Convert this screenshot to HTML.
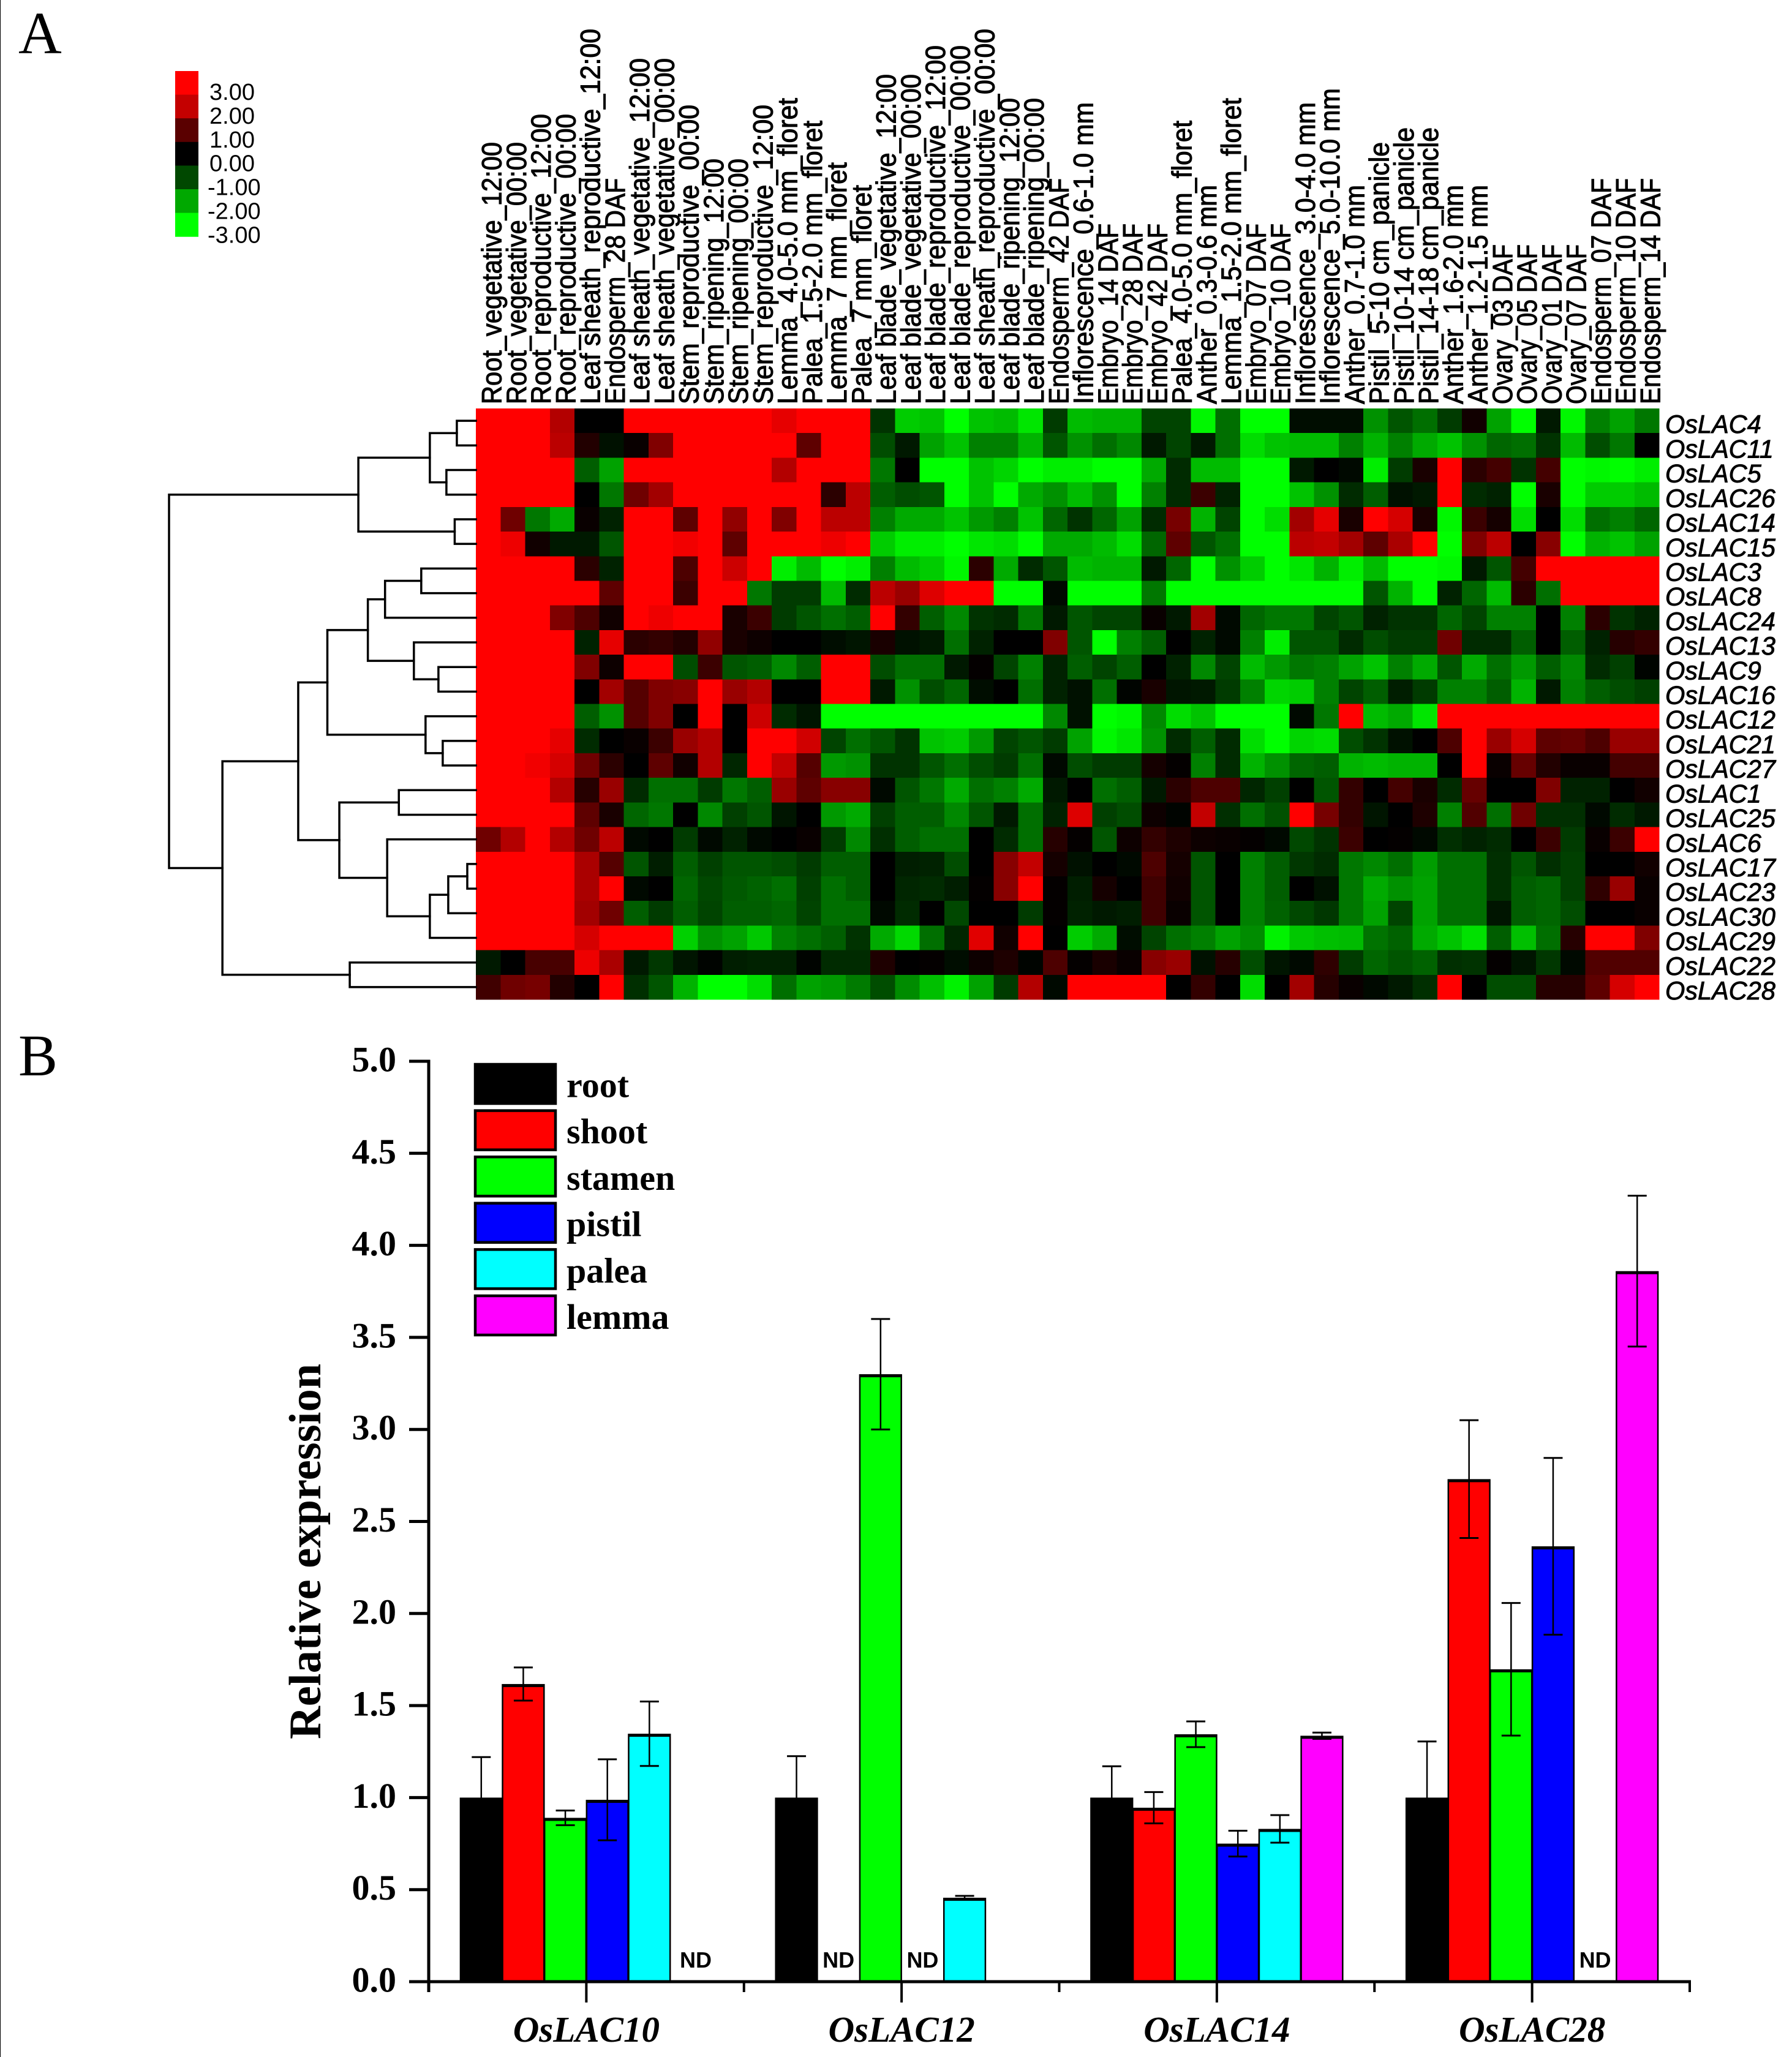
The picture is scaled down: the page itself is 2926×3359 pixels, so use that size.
<!DOCTYPE html>
<html lang="en">
<head>
<meta charset="utf-8">
<title>OsLAC expression heatmap and relative expression chart</title>
<style>
html,body{margin:0;padding:0;background:#fff;}
body{width:2926px;height:3359px;overflow:hidden;}
svg{display:block;}
text{fill:#000;}
.sans{font-family:"Liberation Sans",sans-serif;}
.serif{font-family:"Liberation Serif",serif;}
</style>
</head>
<body>
<svg id="figure" xmlns="http://www.w3.org/2000/svg" width="2926" height="3359" viewBox="0 0 2926 3359">
  <rect x="0" y="0" width="2926" height="3359" fill="#fff"/>
  <rect x="0" y="0" width="1" height="3359" fill="#000"/>
  <text class="serif" x="30" y="87" font-size="98">A</text>
  <text class="serif" x="30" y="1756" font-size="96">B</text>
  <g id="colorbar"></g>
  <g id="collabels"></g>
  <g id="heat" shape-rendering="crispEdges"></g>
  <g id="rowlabels"></g>
  <g id="tree" fill="none" stroke="#000" stroke-width="3.5" stroke-linecap="square"></g>
  <g id="bars"></g>
  <g id="axes"></g>
  <g id="legend"></g>
</svg>
<script>
const colorbarValues = ["3.00","2.00","1.00","0.00","-1.00","-2.00","-3.00"];
const colorbarColors = ["#ff0000","#c40000","#5a0000","#000000","#004800","#00a800","#00ff00"];

const sampleNames = [
"Root_vegetative_12:00","Root_vegetative_00:00","Root_reproductive_12:00","Root_reproductive_00:00",
"Leaf sheath_reproductive_12:00","Endosperm_28 DAF","Leaf sheath_vegetative_12:00","Leaf sheath_vegetative_00:00",
"Stem_reproductive_00:00","Stem_ripening_12:00","Stem_ripening_00:00","Stem_reproductive_12:00",
"Lemma_4.0-5.0 mm_floret","Palea_1.5-2.0 mm_floret","Lemma_7 mm_floret","Palea_7 mm_floret",
"Leaf blade_vegetative_12:00","Leaf blade_vegetative_00:00","Leaf blade_reproductive_12:00","Leaf blade_reproductive_00:00",
"Leaf sheath_reproductive_00:00","Leaf blade_ripening_12:00","Leaf blade_ripening_00:00","Endosperm_42 DAF",
"Inflorescence_0.6-1.0 mm","Embryo_14 DAF","Embryo_28 DAF","Embryo_42 DAF",
"Palea_4.0-5.0 mm_floret","Anther_0.3-0.6 mm","Lemma_1.5-2.0 mm_floret","Embryo_07 DAF",
"Embryo_10 DAF","Inflorescence_3.0-4.0 mm","Inflorescence_5.0-10.0 mm","Anther_0.7-1.0 mm",
"Pistil_5-10 cm_panicle","Pistil_10-14 cm_panicle","Pistil_14-18 cm_panicle","Anther_1.6-2.0 mm",
"Anther_1.2-1.5 mm","Ovary_03 DAF","Ovary_05 DAF","Ovary_01 DAF",
"Ovary_07 DAF","Endosperm_07 DAF","Endosperm_10 DAF","Endosperm_14 DAF"];
const sampleLabelLengths = [
428,428,474,474,613,369,565,565,489,401,401,489,
500,463,395,358,539,539,586,586,613,500,500,369,
493,295,295,295,463,358,500,295,295,493,516,358,
428,452,452,358,358,261,261,261,261,369,369,369];

const heatGenes = ["OsLAC4","OsLAC11","OsLAC5","OsLAC26","OsLAC14","OsLAC15","OsLAC3","OsLAC8","OsLAC24","OsLAC13","OsLAC9","OsLAC16","OsLAC12","OsLAC21","OsLAC27","OsLAC1","OsLAC25","OsLAC6","OsLAC17","OsLAC23","OsLAC30","OsLAC29","OsLAC22","OsLAC28"];

const heatValues = [
[3,3,3,2.1,0,0,3,3,3,3,3,3,
 2.7,3,3,3,-.6,-2.4,-2.3,-3,-2.3,-2.2,-2.7,-.7,
 -2.2,-2.1,-2.1,-.8,-.8,-2.9,-1.3,-3,-3,-.15,-.15,-.15,
 -1.7,-1,-1.3,-.7,.2,-1.9,-3,-.3,-2.9,-1.5,-1.9,-1.4],
[3,3,3,2.2,.4,-.2,.1,1.5,3,3,3,3,
 3,1.1,3,3,-.9,-.3,-1.9,-2.3,-1.5,-1.5,-2.1,-1,
 -1.7,-1.3,-1.6,-.3,-.8,-.3,-1.3,-2.6,-2.3,-2.2,-2.2,-1.5,
 -2.1,-1.5,-2,-2.3,-1.7,-1.2,-1.3,-.6,-2.2,-.9,-1.4,0],
[3,3,3,3,-1.1,-1.9,3,3,3,3,3,3,
 2.1,3,3,3,-1.4,0,-3,-3,-2.3,-2.5,-3,-2.8,
 -2.8,-3,-3,-2,-.5,-2.2,-2.2,-3,-3,-.3,0,-.1,
 -2.8,-.7,.3,3,.5,.8,-.6,.8,-3,-2.9,-3,-2.8],
[3,3,3,3,0,-1.4,1.3,1.9,3,3,3,3,
 3,3,.5,2.2,-1.1,-.9,-1,-3,-2.3,-3,-2,-1.7,
 -2.2,-1.7,-3,-1.5,-.5,.7,-.4,-3,-3,-2.3,-1.7,-.5,
 -1.1,-.2,-.3,3,-.5,-.4,-3,.3,-3,-2.4,-2.4,-2.2],
[3,1.3,-1.4,-2,.1,-.4,3,3,1.1,3,1.7,3,
 1.5,3,2.2,2.2,-1.5,-2,-2,-2.3,-1.8,-1.5,-2.3,-1.2,
 -.6,-1.2,-1.9,-.5,1.4,-2.1,-.8,-3,-2.6,1.9,2.7,.3,
 3,2.5,.3,-2.9,.7,.25,-2.6,0,-2.6,-1.3,-1.5,-1.2],
[3,2.8,.2,-.3,-.3,-1,3,3,2.85,3,1.1,3,
 3,3,2.8,3,-2.4,-2.8,-2.8,-3,-2.7,-2.6,-3,-2,
 -2,-2.2,-2.6,-1.2,1.1,-1,-1.3,-3,-3,2.2,2.3,1.9,
 1.1,2,3,-3,1.5,2.2,0,1.6,-3,-2.1,-2.3,-1.9],
[3,3,3,3,.5,-.4,3,3,.9,3,2.4,3,
 -2.8,-2.2,-3,-2.8,-1.5,-2.2,-2.4,-2.9,.5,-2,-.5,-1,
 -2.2,-2.1,-2.1,-.3,-1.2,-3,-1.7,-2.4,-3,-2.7,-2.1,-2.8,
 -2.2,-3,-3,-2.9,-.3,-1,.8,3,3,3,3,3],
[3,3,3,3,3,1.1,3,3,.7,3,3,-1.4,
 -.7,-.7,-2.2,-.5,2.2,1.8,2.6,3,3,-3,-3,-.1,
 -3,-3,-3,-1.4,-3,-3,-3,-3,-3,-3,-3,-3,
 -1,-2.1,-3,-.4,-1.2,-2.2,.5,-1.3,3,3,3,3],
[3,3,3,1.5,.9,.2,3,2.8,3,3,.3,.7,
 -.7,-1,-1.3,-1.1,3,.6,-1.1,-1.6,-.6,-.5,-1.4,-.3,
 -1,-.8,-.8,.1,-.3,1.9,-.1,-1.2,-1.4,-1.4,-.8,-1,
 -.4,-.6,-.6,-1.2,-.8,-1.5,-1.5,0,-1.5,.5,-.6,-.4],
[3,3,3,3,-.4,2.7,.5,.6,.4,1.7,.3,.15,
 0,0,-.15,-.25,.3,-.2,-.3,-1.3,-.4,0,0,1.5,
 -1,-3,-1.5,-1.1,0,-.4,-.1,-1.5,-2.8,-1,-1,-.5,
 -.9,-.7,-.7,1.3,-.5,-.5,-1.1,0,-1.1,-.4,.45,.6],
[3,3,3,3,1.5,.15,3,3,-.9,.7,-1,-1.1,
 -1.6,-1.1,3,3,-.9,-1.3,-1.3,-.3,.05,-.8,-1.5,-.4,
 -1.1,-.8,-1.1,0,-.4,-1.6,-.8,-2.2,-1.8,-1.4,-1.5,-1.9,
 -2.3,-1.5,-2,-1,-2,-1.3,-1.8,-1.1,-1.6,-.5,-.75,-.05],
[3,3,3,3,0,1.9,1,1.5,1.6,3,1.8,2.1,
 0,0,3,3,-.3,-1.7,-.9,-1.2,-.15,0,-1.3,-.4,
 -.2,-1.3,-.05,.3,-.25,-.3,-.7,-1.5,-2.5,-2.4,-1.5,-.8,
 -1.1,-.35,-.7,-1.5,-1.5,-1.1,-2.1,-.3,-1.5,-1.1,-.9,-.75],
[3,3,3,3,-1.1,-1.7,1,1.5,0,3,0,2.4,
 -.5,-.25,-3,-3,-3,-3,-3,-3,-3,-3,-3,-1.6,
 -.2,-3,-2.9,-1.6,-2.6,-2.3,-3,-3,-3,-.1,-1.4,3,
 -2.2,-2,-2.7,3,3,3,3,3,3,3,3,3],
[3,3,3,2.7,-.5,0,.1,.7,1.8,2.1,0,3,
 3,2.45,-.8,-1.3,-1,-.6,-2.3,-2.4,-1.8,-.8,-1,-.7,
 -1.9,-2.9,-2.7,-1.7,-.5,-1.1,-.5,-2.6,-3,-2.5,-2.6,-.9,
 -.6,-.2,0,.9,3,1.8,2.5,1.1,1.2,.9,1.8,1.8],
[3,3,2.85,2.5,1.3,.5,0,1.1,.2,2.1,-.45,3,
 2.3,1,-1.8,-1.7,-.6,-.6,-1,-1.3,-.9,-.7,-1.3,-.1,
 -.9,-.7,-.7,.25,.05,-1.5,-.5,-2.1,-1.7,-1.2,-1.1,-2.1,
 -2.2,-2.1,-2.1,0,3,.1,1.2,.4,.1,.1,.8,.8],
[3,3,3,2.1,.45,1.8,-.5,-1.3,-1.3,-.7,-1.4,-1.1,
 1.8,1.1,1.6,1.6,-.1,-1,-1.4,-2,-1.3,-1.5,-2,-.3,
 0,-1.3,-1.1,-.3,.5,.9,.9,-.45,-.75,0,-1,.6,
 0,.8,.3,-.5,1.2,0,0,1.5,-.4,-.4,0,.2],
[3,3,3,3,1.1,.3,-1.2,-1.4,0,-1.6,-.75,-1,
 -.25,0,-1.8,-2,-.75,-1.1,-1.1,-1.6,-1,-.3,-1.3,-.4,
 2.6,-.75,-.9,.15,-.05,2.3,-.55,-1.3,-.95,3,1.4,.6,
 -.25,0,.35,-1.5,.95,-1.3,1.3,-.55,-.55,-.1,-.5,-.3],
[1.3,2.1,3,2.1,1.3,2.2,-.1,0,-.7,-.1,-.4,-.1,
 0,.1,-.7,-1.6,-.55,-1.1,-1.3,-1.3,0,-.5,-1.3,.45,
 .05,-1,.15,.6,.35,.15,.1,.05,-.1,-.85,-.6,.7,
 0,.05,-.1,-.55,-.4,-.5,0,.7,-.7,.1,.7,3],
[3,3,3,3,2,1,-1,-.35,-1.1,-.75,-1,-1,
 -.9,-.7,-1.1,-1.1,0,-.35,-.4,-.9,0,1.6,2.3,.25,
 -.2,0,-.1,.9,.25,-1,0,-1.5,-1.1,-.65,-.5,-1.4,
 -1.6,-1.3,-1.85,-1.3,-1.3,-.55,-1,-.55,-.75,0,0,.2],
[3,3,3,3,2,3,-.1,0,-1.2,-.85,-1.05,-1.15,
 -1.3,-.75,-1.3,-1.1,0,-.45,-.5,-.35,.05,1.6,3,.05,
 -.35,.25,0,.75,.2,-1,0,-1.5,-1.1,0,-.2,-1.4,
 -2,-1.7,-1.9,-1.3,-1.3,-.55,-1.1,-1.2,-.75,.55,1.8,.1],
[3,3,3,3,1.9,1.3,-1.1,-.7,-1.1,-.8,-1.1,-1.1,
 -1.2,-.8,-1.3,-1.3,-.1,-.5,0,-.85,0,0,-.7,.05,
 -.4,-.3,-.35,.75,.1,-1,0,-1.5,-1.15,-.85,-.65,-1.4,
 -1.9,-.8,-1.9,-1.3,-1.3,-.25,-1.1,-1.2,-.9,0,0,.1],
[3,3,3,3,2.5,3,3,3,-2.45,-1.7,-1.9,-2.35,
 -1.5,-1.3,-1.1,-.6,-2,-2.55,-1.3,-.45,2.65,.2,3,0,
 -2.4,-2,-.15,-.8,-1.3,-1.5,-1.9,-1.65,-2.85,-2.35,-2.25,-2.2,
 -1.35,-1.15,-2,-2.3,-2.65,-1.1,-2.25,-1.3,.45,3,3,1.5],
[-.3,0,.85,.85,2.8,2,-.3,-.65,-.25,-.05,-.35,-.4,
 -.4,-.05,-.5,-.5,.35,0,.05,-.15,.15,.35,-.05,.9,
 .05,.3,.1,1.6,1.8,-.2,.45,-.9,-.25,-.1,.55,-.7,
 -1.2,-1,-1.15,-.55,-.6,.05,-.25,-.65,-.1,.95,.95,.95],
[.75,1.3,1.4,.4,0,3,-.55,-1,-2.1,-3,-3,-2.6,
 -1.3,-1.9,-1.8,-1.45,-.9,-1.65,-2.25,-2.85,-1.9,-.7,2.1,-.1,
 3,3,3,3,0,.6,0,-2.6,0,1.9,.45,.1,
 -.1,-.3,-.55,3,0,-.9,-.9,.45,.45,1.1,2.5,3]
];

// Dendrogram: [left, right, merge distance]; numbers at the leaves are row indexes
const clusterTree = [
 [[[0,1,.062],[2,3,.096],.15],[4,5,.069],.383],
 [
  [
   [[[[6,7,.178],8,.296],[9,[10,11,.122],.202],.352],[12,[13,14,.108],.164],.484],
   [[15,16,.251],[17,[[[18,19,.028],20,.09],21,.15],.289],.445],
   .579
  ],
  [22,23,.411],
  .826
 ],
 1
];

const barGenes = ["OsLAC10","OsLAC12","OsLAC14","OsLAC28"];
const tissueNames = ["root","shoot","stamen","pistil","palea","lemma"];
const tissueColors = ["#000000","#ff0000","#00ff00","#0000ff","#00ffff","#ff00ff"];
// null = printed "ND"; 0 = no bar and no label
const rootValues = [1.0,1.0,1.0,1.0];
const shootValues = [1.617,null,.945,2.73];
const stamenValues = [.89,3.3,1.344,1.697];
const pistilValues = [.988,null,.75,2.365];
const paleaValues = [1.347,.456,.83,null];
const lemmaValues = [null,0,1.336,3.86];
const rootErrors = [.22,.225,.17,.305];
const shootErrors = [.09,0,.085,.32];
const stamenErrors = [.04,.3,.07,.36];
const pistilErrors = [.22,0,.07,.48];
const paleaErrors = [.175,.01,.075,0];
const lemmaErrors = [0,0,.017,.41];
const yTickLabels = ["0.0","0.5","1.0","1.5","2.0","2.5","3.0","3.5","4.0","4.5","5.0"];
const ndLabel = "ND";

const NS = "http://www.w3.org/2000/svg";
function make(parentId, tag, props, text) {
  const el = document.createElementNS(NS, tag);
  for (const k in props) el.setAttribute(k, props[k]);
  if (text !== undefined) el.textContent = text;
  document.getElementById(parentId).appendChild(el);
  return el;
}

/* ---------- Panel A ---------- */
const heatLeft = 777, heatRight = 2709, heatTop = 667, heatBottom = 1632;
const colX = i => heatLeft + (heatRight - heatLeft) * i / sampleNames.length;
const rowY = i => heatTop + (heatBottom - heatTop) * i / heatGenes.length;
const cellColor = v => {
  const n = Math.round(Math.min(Math.abs(v), 3) / 3 * 255);
  return v >= 0 ? `rgb(${n},0,0)` : `rgb(0,${n},0)`;
};

colorbarColors.forEach((c, i) => {
  const h = 38.6;
  const swatch = make("colorbar", "rect", {x: 286, y: 116 + h * i, width: 38, height: h + .5, fill: c});
  
  
  const label = make("colorbar", "text", {x: colorbarValues[i][0] === "-" ? 339 : 342, y: 163 + 38.9 * i, "font-size": 38, "class": "sans"}, colorbarValues[i]);
  
  
});

sampleNames.forEach((name, i) => {
  const x = colX(i) + 41.5;
  const label = make("collabels", "text", {x: x, y: 660, transform: `rotate(-90 ${x} 660)`, "font-size": 45, "class": "sans", stroke: "#000", "stroke-width": 1.1, textLength: sampleLabelLengths[i], lengthAdjust: "spacingAndGlyphs"}, name);
  
  
});

heatValues.forEach((row, r) => {
  row.forEach((v, c) => {
    const cell = make("heat", "rect", {x: colX(c), y: rowY(r), width: colX(c + 1) - colX(c) + .5, height: rowY(r + 1) - rowY(r) + .5, fill: cellColor(v)});
    
    
  });
});

heatGenes.forEach((name, i) => {
  const label = make("rowlabels", "text", {x: 2719, y: rowY(i + 1), "font-size": 41.5, "font-style": "italic", "class": "sans", stroke: "#000", "stroke-width": .9}, name);
  
  
});

const treeX = d => heatLeft - d * 501;
const leafY = i => rowY(i) + (rowY(1) - rowY(0)) / 2;
function drawNode(node) {
  if (typeof node === "number") return {x: heatLeft, y: leafY(node)};
  const a = drawNode(node[0]), b = drawNode(node[1]);
  const x = treeX(node[2]);
  const branch = make("tree", "path", {d: `M${a.x} ${a.y}H${x}V${b.y}H${b.x}`});
  
  
  return {x: x, y: (a.y + b.y) / 2};
}
drawNode(clusterTree);

/* ---------- Panel B ---------- */
const axisLeft = 700, axisRight = 2759, yZero = 3236, yPerUnit = 300.6;
const valueY = v => yZero - v * yPerUnit;
const bandWidth = (axisRight - axisLeft) / barGenes.length;
const bandCenter = g => axisLeft + bandWidth * (g + .5);
const barWidth = bandWidth * .8 / tissueNames.length;
const barLeft = (g, t) => bandCenter(g) + (t - tissueNames.length / 2) * barWidth;
const seriesValues = [rootValues, shootValues, stamenValues, pistilValues, paleaValues, lemmaValues];
const seriesErrors = [rootErrors, shootErrors, stamenErrors, pistilErrors, paleaErrors, lemmaErrors];

seriesValues.forEach((vals, t) => {
  vals.forEach((v, g) => {
    const x = barLeft(g, t);
    if (v === null) {
      const nudge = t === tissueNames.length - 1 ? 7 : 0;
      const nd = make("bars", "text", {x: x + barWidth / 2 + nudge, y: yZero - 23, "font-size": 36, "font-weight": "bold", "text-anchor": "middle", "class": "sans"}, ndLabel);
      
      
      return;
    }
    if (v === 0) return;
    const top = valueY(v);
    const outer = make("bars", "rect", {x: x - .8, y: top, width: barWidth + 1.6, height: yZero - top, fill: "#000"});
    
    
    const inner = make("bars", "rect", {x: x + 1.7, y: top + 5, width: barWidth - 3.4, height: Math.max(yZero - top - 5, 0), fill: tissueColors[t]});
    
    
    const e = seriesErrors[t][g];
    if (e > 0) {
      const cx = x + barWidth / 2;
      const capHalf = 15.5;
      const stem = make("bars", "line", {x1: cx, x2: cx, y1: valueY(v + e), y2: valueY(v - e), stroke: "#000", "stroke-width": 2.5});
      
      
      const capTop = make("bars", "line", {x1: cx - capHalf, x2: cx + capHalf, y1: valueY(v + e), y2: valueY(v + e), stroke: "#000", "stroke-width": 3});
      
      
      const capBottom = make("bars", "line", {x1: cx - capHalf, x2: cx + capHalf, y1: valueY(v - e), y2: valueY(v - e), stroke: "#000", "stroke-width": 3});
      
      
    }
  });
});

const yAxisLine = make("axes", "line", {x1: axisLeft, x2: axisLeft, y1: valueY(5) - 2.5, y2: yZero + 17, stroke: "#000", "stroke-width": 5});


const xAxisLine = make("axes", "line", {x1: 668, x2: axisRight + 2, y1: yZero, y2: yZero, stroke: "#000", "stroke-width": 5});



yTickLabels.forEach(label => {
  const v = parseFloat(label);
  const tick = make("axes", "line", {x1: 668, x2: axisLeft, y1: valueY(v), y2: valueY(v), stroke: "#000", "stroke-width": 5});
  
  
  const text = make("axes", "text", {x: 647, y: valueY(v) + 16.5, "font-size": 58, "font-weight": "bold", "text-anchor": "end", "class": "serif"}, label);
  
  
});

barGenes.forEach((name, g) => {
  const cx = bandCenter(g);
  const major = make("axes", "line", {x1: cx, x2: cx, y1: yZero, y2: yZero + 34, stroke: "#000", "stroke-width": 4});
  
  
  const minor = make("axes", "line", {x1: cx + bandWidth / 2, x2: cx + bandWidth / 2, y1: yZero, y2: yZero + 17, stroke: "#000", "stroke-width": 4});
  
  
  const label = make("axes", "text", {x: cx, y: 3334, "font-size": 59, "font-weight": "bold", "font-style": "italic", "text-anchor": "middle", "class": "serif"}, name);
  
  
});

const yTitle = make("axes", "text", {x: 523, y: 2840, transform: "rotate(-90 523 2840)", "font-size": 74.5, "font-weight": "bold", "class": "serif"}, "Relative expression");



tissueNames.forEach((name, t) => {
  const top = 1738 + 75.6 * t;
  const swatch = make("legend", "rect", {x: 776, y: top, width: 131, height: 64, fill: tissueColors[t], stroke: "#000", "stroke-width": 4.5});
  
  
  const label = make("legend", "text", {x: 925, y: 1791.5 + 75.7 * t, "font-size": 58, "font-weight": "bold", "class": "serif"}, name);
  
  
});
</script>
</body>
</html>
